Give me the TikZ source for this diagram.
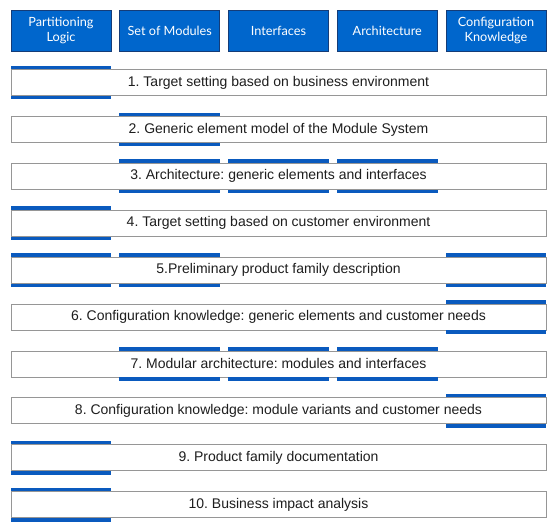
\documentclass[tikz,border=0pt]{standalone}
\usepackage{fontspec}
\setmainfont{Liberation Sans}
\newfontfamily\hdfont{Lato}
\usetikzlibrary{calc}
\frenchspacing
\definecolor{hdblue}{RGB}{0,102,204}
\definecolor{hdedge}{RGB}{20,60,120}
\definecolor{barblue}{RGB}{10,90,190}
\definecolor{boxedge}{RGB}{150,150,150}
\definecolor{txt}{RGB}{30,30,30}
\tikzset{
  hdbox/.style={draw=hdedge, line width=0.6pt, fill=hdblue, text=white,
    minimum width=100pt, minimum height=41pt, inner sep=0pt,
    align=center, font=\hdfont\fontsize{12.7}{15}\selectfont},
  rowbox/.style={draw=boxedge, line width=0.8pt, fill=white, text=txt,
    minimum width=535pt, minimum height=26pt, inner sep=0pt,
    font=\fontsize{14}{16}\selectfont},
  barfill/.style={fill=barblue}
}
\newcommand{\bars}[2]{%
  \foreach \c in {#2} {
    \fill[barfill] (hd\c.west |- #1.north) rectangle ($(hd\c.east |- #1.north)+(0,3.5pt)$);
    \fill[barfill] (hd\c.west |- #1.south) rectangle ($(hd\c.east |- #1.south)+(0,-3.5pt)$);
  }}
\begin{document}
\begin{tikzpicture}[x=1pt,y=-1pt]
\useasboundingbox (0,0) rectangle (558,525);
\node[hdbox] (hd1) at (61,30.5) {Partitioning\\Logic};
\node[hdbox] (hd2) at (169.75,30.5) {Set of Modules};
\node[hdbox] (hd3) at (278.5,30.5) {Interfaces};
\node[hdbox] (hd4) at (387.25,30.5) {Architecture};
\node[hdbox] (hd5) at (496,30.5) {Configuration\\Knowledge};
\node[rowbox] (r1) at (278.5,82.5) {1. Target setting based on business environment};
\node[rowbox] (r2) at (278.5,129.4) {2. Generic element model of the Module System};
\node[rowbox] (r3) at (278.5,176.3) {3. Architecture: generic elements and interfaces};
\node[rowbox] (r4) at (278.5,223.2) {4. Target setting based on customer environment};
\node[rowbox] (r5) at (278.5,270.1) {5.Preliminary product family description};
\node[rowbox] (r6) at (278.5,317.0) {6. Configuration knowledge: generic elements and customer needs};
\node[rowbox] (r7) at (278.5,363.9) {7. Modular architecture: modules and interfaces};
\node[rowbox] (r8) at (278.5,410.8) {8. Configuration knowledge: module variants and customer needs};
\node[rowbox] (r9) at (278.5,457.7) {9. Product family documentation};
\node[rowbox] (r10) at (278.5,504.6) {10. Business impact analysis};
\bars{r1}{1}
\bars{r2}{2}
\bars{r3}{2,3,4}
\bars{r4}{1}
\bars{r5}{1,2,5}
\bars{r6}{5}
\bars{r7}{2,3,4}
\bars{r8}{5}
\bars{r9}{1}
\bars{r10}{1}
\end{tikzpicture}
\end{document}
